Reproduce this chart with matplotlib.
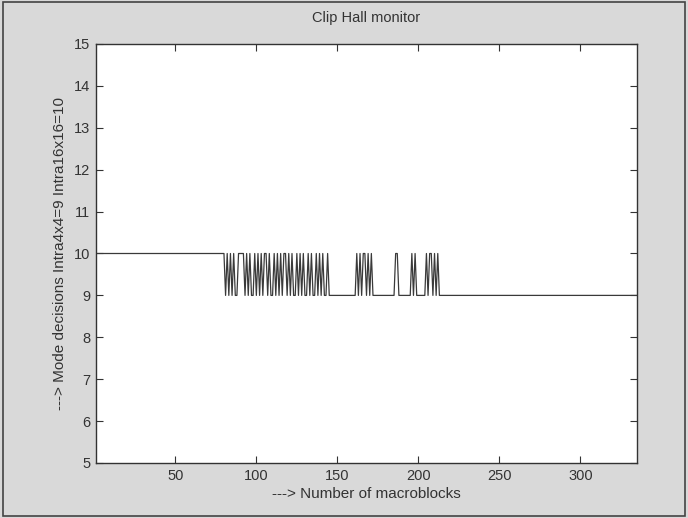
import numpy as np
import matplotlib
matplotlib.use("Agg")
import matplotlib.pyplot as plt
from matplotlib.patches import Rectangle

# macroblock range and mode decisions (Intra4x4=9, Intra16x16=10)
mb_first = 1
mb_last = 335
lead_in_end = 80          # macroblocks 1..80 are Intra16x16
lead_in_mode = 10
# decisions for macroblocks 81..213
burst_modes = [
    9, 10, 9, 10, 9, 10, 9, 9, 10, 10, 10, 10, 9, 10, 9, 10, 9, 9, 10, 9,
    10, 9, 10, 9, 10, 10, 9, 10, 9, 9, 10, 9, 10, 9, 10, 9, 10, 10, 9, 10,
    9, 10, 9, 9, 10, 9, 10, 9, 10, 9, 9, 10, 9, 10, 9, 9, 10, 9, 10, 9,
    10, 9, 9, 10, 9, 9,
    9, 9, 9, 9, 9, 9, 9, 9, 9, 9, 9, 9, 9, 9, 9,
    10, 9, 10, 9, 10, 10, 9, 10, 9, 10, 9,
    9, 9, 9, 9, 9, 9, 9, 9, 9, 9, 9, 9, 9,
    10, 10, 9, 9, 9, 9, 9, 9, 9, 9,
    10, 9, 10, 9, 9, 9, 9, 9, 9,
    10, 9, 10, 10, 9, 10, 9, 10,
]
tail_mode = 9             # rest of the frame is Intra4x4

xticks = [50, 100, 150, 200, 250, 300]
yticks = [5, 6, 7, 8, 9, 10, 11, 12, 13, 14, 15]

mb = np.arange(mb_first, mb_last + 1)
modes = [lead_in_mode] * lead_in_end + burst_modes
modes = modes + [tail_mode] * (len(mb) - len(modes))

plt.rcParams['font.family'] = ['Liberation Sans', 'DejaVu Sans']

fig = plt.figure(figsize=(6.88, 5.18), dpi=100, facecolor='#d9d9d9')
ax = fig.add_axes([96 / 688, 55 / 518, 541 / 688, 419 / 518])
ax.set_facecolor('white')

ax.plot(mb, modes, color='#3a3a3a', lw=0.9)

ax.set_xlim(mb_first, mb_last)
ax.set_ylim(5, 15)
ax.set_xticks(xticks)
ax.set_yticks(yticks)
ax.tick_params(direction='in', length=5, width=0.8, top=True, right=True,
               labelsize=10.5, colors='#333333', pad=4)
for s in ax.spines.values():
    s.set_color('#333333')
    s.set_linewidth(1.0)

ax.set_xlabel('---> Number of macroblocks', fontsize=11, color='#333333', labelpad=3)
ax.set_ylabel('---> Mode decisions Intra4x4=9 Intra16x16=10', fontsize=11,
              color='#333333', labelpad=5)
fig.text(366 / 688, 1 - 18 / 518, 'Clip Hall monitor', ha='center', va='center',
         fontsize=10.5, color='#333333')

# outer frame of the scanned figure
fig.patches.append(Rectangle((0.004, 0.004), 0.992, 0.992, transform=fig.transFigure,
                             fill=False, edgecolor='#444444', lw=1.2))

fig.savefig('out.png', dpi=100, facecolor=fig.get_facecolor())
